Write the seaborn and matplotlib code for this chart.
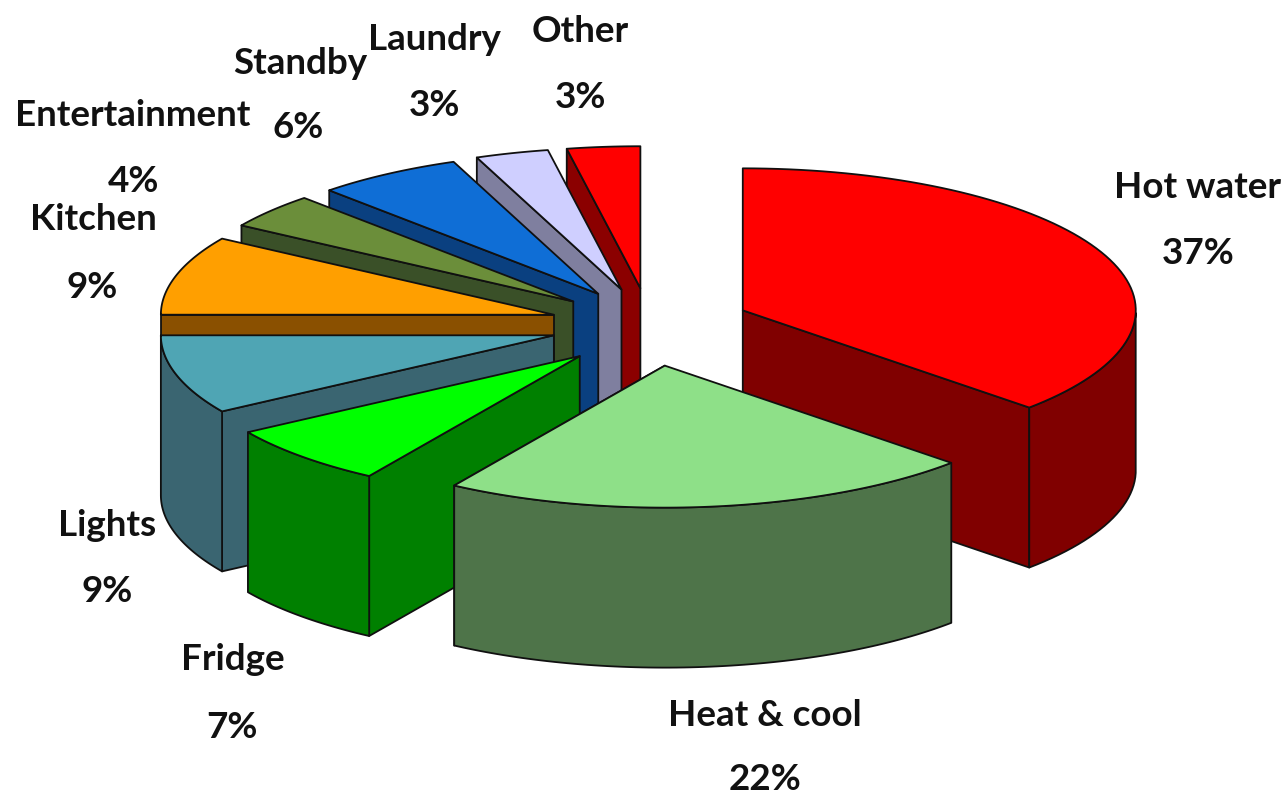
# -*- coding: utf-8 -*-
"""
plot.py - exploded 3D style pie of household energy use
"""

import numpy as np
import matplotlib
matplotlib.use("Agg")
import matplotlib.pyplot as plt
import seaborn as sns

# data, clockwise from the top of the pie
categories = ["Hot water", "Heat & cool", "Fridge", "Lights", "Kitchen",
              "Entertainment", "Standby", "Laundry", "Other"]
shares = [37, 22, 7, 9, 9, 4, 6, 3, 3]

# colours
top_colors = ["#ff0000", "#8ee088", "#00ff00", "#4fa5b4", "#ff9f00",
              "#6b8e3a", "#0f6ed6", "#cfcfff", "#ff0000"]
side_colors = ["#800000", "#4e7449", "#008000", "#3a6571", "#8a5000",
               "#3a5028", "#0a4080", "#7f7f9f", "#8b0000"]

# layout in image pixels
CENTER = (649, 325)
RX, RY = 393, 142
DEPTH = 160
EXPLODE = 0.26
nudge = [(0, 0), (3, 4), (3, 5), (3, 0), (3, 0), (3, 0), (4, 0), (1, 0), (1, 0)]
label_pos = [(1198, 187), (765, 715), (233, 660), (107, 525), (93, 219),
             (133, 115), (300, 64), (434, 40), (580, 32)]
value_pos = [(1198, 254), (765, 780), (232, 727), (107, 592), (92, 287),
             (133, 182), (298, 127), (434, 105), (580, 97)]


def rim(theta):
    # theta in degrees clockwise from top, returns offsets on the ellipse
    t = np.radians(theta)
    return RX * np.sin(t), -RY * np.cos(t)


def draw_slice(ax, start, end, top, side, shift):
    mid = (start + end) / 2
    ex, ey = rim(mid)
    ax0 = CENTER[0] + EXPLODE * ex + shift[0]
    ay0 = CENTER[1] + EXPLODE * ey + shift[1]
    arc = np.linspace(start, end, 80)
    rx, ry = rim(arc)
    xs, ys = ax0 + rx, ay0 + ry
    style = dict(edgecolor="#101010", linewidth=1.3, joinstyle="round")

    # the cut face we can see
    i = -1 if mid < 180 else 0
    ax.fill([ax0, xs[i], xs[i], ax0],
            [ay0, ys[i], ys[i] + DEPTH, ay0 + DEPTH],
            facecolor=side, **style)

    # outer wall, only the part facing us
    front = (arc >= 90) & (arc <= 270)
    if front.sum() > 1:
        wx, wy = xs[front], ys[front]
        ax.fill(np.r_[wx, wx[::-1]], np.r_[wy, wy[::-1] + DEPTH],
                facecolor=side, **style)

    ax.fill(np.r_[ax0, xs], np.r_[ay0, ys], facecolor=top, **style)


sns.set_theme(style="white")
plt.rcParams["font.family"] = ["Lato", "Liberation Sans", "DejaVu Sans"]

fig, ax = plt.subplots(figsize=(12.85, 7.98), dpi=100)
fig.subplots_adjust(0, 0, 1, 1)
ax.set_xlim(0, 1285)
ax.set_ylim(798, 0)
ax.axis("off")

# angles from the shares
edges = np.r_[0, np.cumsum(shares)] * 360 / sum(shares)
mids = (edges[:-1] + edges[1:]) / 2

# back to front so nearer slices cover the far ones
for k in np.argsort(-np.cos(np.radians(mids))):
    draw_slice(ax, edges[k], edges[k + 1], top_colors[k], side_colors[k], nudge[k])

for name, val, lp, vp in zip(categories, shares, label_pos, value_pos):
    ax.text(lp[0], lp[1], name, ha="center", va="center", fontsize=26.5,
            fontweight="bold", color="#111111")
    ax.text(vp[0], vp[1], f"{val}%", ha="center", va="center", fontsize=26.5,
            fontweight="bold", color="#111111")

fig.savefig("out.png", dpi=100, facecolor="white")
